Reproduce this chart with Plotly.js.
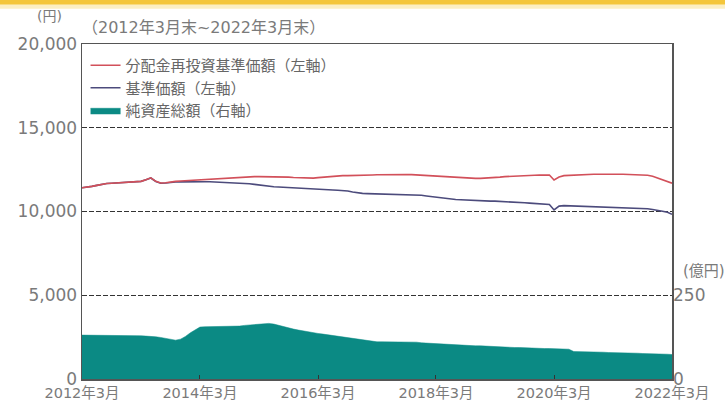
<!DOCTYPE html>
<html><head><meta charset="utf-8">
<script src="https://cdn.plot.ly/plotly-3.0.1.min.js"></script>
<style>html,body{margin:0;padding:0;background:#fff}#c{width:725px;height:403px}</style>
</head><body><div id="c"></div>
<script>
// monthly points, 2012年3月末 .. 2022年3月末
const startYear = 2012, startMonth = 3, nMonths = 121;
const dates = [];
for (let i = 0; i < nMonths; i++) {
  const m = startMonth - 1 + i;
  const y = startYear + Math.floor(m / 12);
  const mm = (m % 12) + 1;
  dates.push(y + '-' + String(mm).padStart(2, '0') + '-01');
}

// 分配金再投資基準価額 (円)
const reinvestNav = [
 11420,11450,11500,11560,11620,11670,11690,11710,11730,11750,11770,11780,
 11800,11900,12010,11800,11700,11720,11780,11800,11820,11840,11860,11880,
 11900,11920,11940,11960,11980,12000,12020,12040,12060,12070,12080,12080,
 12080,12080,12080,12080,12080,12070,12050,12030,12010,11990,11980,11990,
 12020,12050,12080,12110,12130,12140,12140,12140,12150,12160,12170,12180,
 12190,12200,12210,12220,12220,12220,12210,12200,12180,12160,12140,12120,
 12100,12080,12060,12040,12020,12000,11990,11980,11980,11980,11990,12000,
 12020,12050,12080,12100,12120,12130,12140,12150,12160,12170,12170,12180,
 11880,12060,12140,12160,12180,12190,12200,12210,12220,12220,12230,12230,
 12230,12220,12220,12210,12200,12190,12180,12160,12100,12000,11920,11820,11690
];
// 基準価額 (円)
const nav = [
 11420,11450,11500,11560,11620,11670,11690,11710,11730,11750,11770,11780,
 11800,11900,12000,11790,11690,11700,11740,11760,11770,11780,11780,11780,
 11780,11780,11780,11770,11760,11740,11720,11700,11690,11680,11660,11620,
 11580,11540,11500,11480,11460,11440,11420,11400,11390,11380,11370,11350,
 11330,11310,11290,11280,11270,11260,11220,11160,11100,11080,11070,11060,
 11060,11050,11050,11040,11040,11030,11030,11020,11000,10970,10930,10890,
 10850,10810,10780,10750,10720,10700,10680,10660,10640,10630,10630,10620,
 10620,10610,10600,10580,10560,10540,10520,10500,10480,10460,10440,10420,
 10090,10320,10350,10340,10330,10320,10310,10300,10290,10280,10270,10260,
 10250,10240,10230,10220,10210,10190,10180,10160,10120,10080,10020,9950,9830
];
// 純資産総額 (億円)
const netAssets = [
 131,131,131,131,130,130,130,130,130,129,129,129,
 129,128,128,126,124,121,118,116,119,127,138,148,
 155,156,156,156,156,156,157,157,158,160,161,161,
 162,163,166,164,160,156,152,149,146,143,140,138,
 136,134,132,129,126,124,122,120,118,116,114,112,
 111,111,111,111,111,111,111,111,110,108,107,106,
 105,104,104,103,102,101,101,100,99,99,98,97,
 96,96,95,95,94,94,93,93,92,92,91,91,
 90,90,89,89,82,82,81,81,81,80,80,79,
 79,78,78,78,77,77,76,76,75,75,74,74,73
];

const seriesNames = ['分配金再投資基準価額（左軸）', '基準価額（左軸）', '純資産総額（右軸）'];
const xTickVals = ['2012-03-01','2014-03-01','2016-03-01','2018-03-01','2020-03-01','2022-03-01'];
const xTickText = ['2012年3月','2014年3月','2016年3月','2018年3月','2020年3月','2022年3月'];
const yTickVals = [0, 5000, 10000, 15000, 20000];
const yTickText = ['0', '5,000', '10,000', '15,000', '20,000'];
const y2TickVals = [0, 250];

const FONT = 'DejaVu Sans, Noto Sans CJK JP, sans-serif';
const CJK = 'Noto Sans CJK JP, DejaVu Sans, sans-serif';
const GRAY = '#7a7a7a';

const traces = [
  {x: dates, y: netAssets, name: seriesNames[2], yaxis: 'y2', type: 'scatter', mode: 'lines',
   fill: 'tozeroy', fillcolor: '#0b8a84', line: {color: '#0b8a84', width: 0.5}},
  {x: dates, y: nav, name: seriesNames[1], type: 'scatter', mode: 'lines',
   line: {color: '#4c4b7c', width: 1.6}},
  {x: dates, y: reinvestNav, name: seriesNames[0], type: 'scatter', mode: 'lines',
   line: {color: '#d2505a', width: 1.6}}
];

const layout = {
  width: 725, height: 403,
  margin: {l: 82, r: 53, t: 44, b: 24},
  paper_bgcolor: '#fff', plot_bgcolor: '#fff',
  font: {family: FONT, color: GRAY},
  showlegend: true,
  legend: {x: 0.006, y: 0.985, xanchor: 'left', yanchor: 'top', traceorder: 'reversed',
           bgcolor: 'rgba(0,0,0,0)', font: {family: CJK, size: 15, color: '#666'},
           itemwidth: 30, tracegroupgap: 0},
  xaxis: {type: 'date', range: ['2012-03-01', '2022-03-01'],
          tickvals: xTickVals, ticktext: xTickText, tickfont: {size: 14.5, color: GRAY},
          ticks: 'inside', ticklen: 4, tickcolor: '#333', showgrid: false, zeroline: false,
          ticklabelstandoff: 0,
          showline: true, linecolor: '#555', linewidth: 1.5, mirror: true},
  yaxis: {range: [0, 20000], tickvals: yTickVals, ticktext: yTickText,
          tickfont: {size: 17, color: GRAY}, showgrid: true, gridcolor: '#333',
          griddash: '5px,2px', gridwidth: 1, zeroline: false,
          showline: true, linecolor: '#555', linewidth: 1.5, mirror: true},
  yaxis2: {overlaying: 'y', side: 'right', range: [0, 1000], tickvals: y2TickVals,
           tickfont: {size: 17, color: GRAY}, showgrid: false, zeroline: false, showline: false},
  annotations: [
    {text: '(円)', xref: 'paper', yref: 'paper', x: -0.055, y: 1.083, xanchor: 'center', yanchor: 'middle',
     showarrow: false, font: {size: 14, color: GRAY}},
    {text: '（2012年3月末~2022年3月末）', xref: 'paper', yref: 'paper', x: -0.003, y: 1.05,
     xanchor: 'left', yanchor: 'middle', showarrow: false, font: {size: 16, color: GRAY}},
    {text: '(億円)', xref: 'paper', yref: 'paper', x: 1.054, y: 0.322, xanchor: 'center', yanchor: 'middle',
     showarrow: false, font: {size: 15, color: GRAY}}
  ],
  shapes: [
    {type: 'rect', xref: 'paper', yref: 'paper', x0: -0.2, x1: 1.2, y0: 1.117, y1: 1.135,
     fillcolor: '#f4c63a', line: {width: 0}},
    {type: 'rect', xref: 'paper', yref: 'paper', x0: -0.2, x1: 1.2, y0: 1.105, y1: 1.117,
     fillcolor: '#fcefc2', line: {width: 0}}
  ]
};

Plotly.newPlot('c', traces, layout, {displayModeBar: false, staticPlot: true});
</script></body></html>
